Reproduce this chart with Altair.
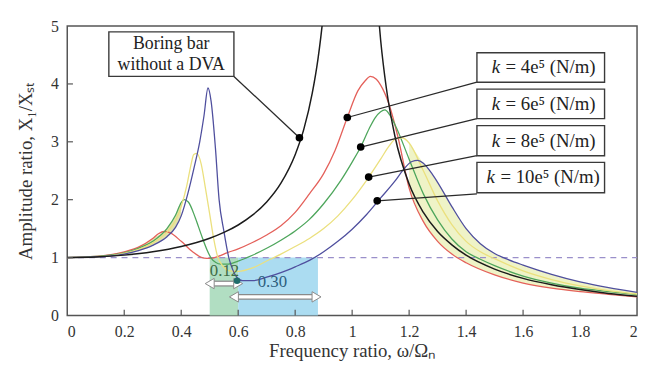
import altair as alt
import pandas as pd

# ---------------- data ----------------
# Boring bar without a DVA (black)
bare_x = [0, 0.1, 0.2, 0.3, 0.4, 0.5, 0.55, 0.6, 0.65, 0.7, 0.75, 0.8, 0.83, 0.86, 0.88, 0.89,
          0.9, 0.92, 0.95, 1.05, 1.08, 1.09, 1.1, 1.12, 1.15, 1.2, 1.25, 1.3, 1.35, 1.4, 1.5,
          1.6, 1.7, 1.8, 1.9, 2.0]
bare_y = [1.0, 1.01, 1.042, 1.099, 1.19, 1.333, 1.434, 1.5625, 1.732, 1.961, 2.286, 2.778, 3.21,
          3.84, 4.43, 4.81, 5.26, 6.5, 10, 10, 6.0, 5.32, 4.76, 3.93, 3.10, 2.27, 1.78, 1.45,
          1.22, 1.04, 0.80, 0.64, 0.53, 0.446, 0.38, 0.333]

# k = 4e5 (red)
k4_x = [0, 0.1, 0.2, 0.25, 0.3, 0.32, 0.34, 0.36, 0.4, 0.44, 0.48, 0.5, 0.53, 0.56, 0.6, 0.65,
        0.7, 0.75, 0.8, 0.85, 0.9, 0.94, 0.983, 1.02, 1.045, 1.064, 1.085, 1.1, 1.128, 1.16, 1.2,
        1.25, 1.3, 1.35, 1.4, 1.5, 1.6, 1.7, 1.8, 1.9, 2.0]
k4_y = [1.0, 1.02, 1.1, 1.18, 1.33, 1.41, 1.45, 1.43, 1.28, 1.1, 0.99, 0.985, 1.02, 1.08, 1.15,
        1.26, 1.39, 1.55, 1.78, 2.1, 2.45, 2.85, 3.42, 3.88, 4.05, 4.13, 4.08, 3.98, 3.67, 3.1, 2.2,
        1.62, 1.28, 1.06, 0.91, 0.7, 0.56, 0.47, 0.41, 0.365, 0.32]

# k = 6e5 (green)
k6_x = [0, 0.1, 0.2, 0.25, 0.3, 0.35, 0.38, 0.40, 0.41, 0.425, 0.45, 0.47, 0.49, 0.505, 0.52,
        0.54, 0.56, 0.6, 0.65, 0.7, 0.75, 0.8, 0.85, 0.9, 0.96, 1.0, 1.03, 1.06, 1.08, 1.10,
        1.115, 1.13, 1.15, 1.2, 1.25, 1.3, 1.35, 1.4, 1.45, 1.5, 1.6, 1.7, 1.8, 1.9, 2.0]
k6_y = [1.0, 1.02, 1.08, 1.16, 1.28, 1.5, 1.73, 1.95, 2.0, 1.96, 1.68, 1.4, 1.14, 0.99, 0.92,
        0.885, 0.885, 0.94, 1.04, 1.16, 1.3, 1.46, 1.66, 1.93, 2.33, 2.65, 2.91, 3.23, 3.41, 3.52,
        3.55, 3.48, 3.3, 2.7, 2.1, 1.65, 1.32, 1.1, 0.97, 0.86, 0.68, 0.56, 0.47, 0.41, 0.36]

# k = 8e5 (yellow)
k8_x = [0, 0.1, 0.2, 0.25, 0.3, 0.35, 0.38, 0.4, 0.42, 0.435, 0.444, 0.455, 0.47, 0.485, 0.5,
        0.515, 0.527, 0.545, 0.57, 0.6, 0.65, 0.7, 0.75, 0.8, 0.85, 0.9, 0.95, 1.0, 1.05,
        1.1, 1.13, 1.155, 1.175, 1.2, 1.25, 1.3, 1.35, 1.4, 1.45, 1.5, 1.6, 1.7, 1.8, 1.9, 2.0]
k8_y = [1.0, 1.01, 1.07, 1.14, 1.25, 1.44, 1.64, 1.88, 2.25, 2.62, 2.78, 2.8, 2.62, 2.2, 1.75,
        1.3, 1.03, 0.86, 0.77, 0.76, 0.82, 0.94, 1.06, 1.19, 1.33, 1.5, 1.72, 2.0, 2.33,
        2.7, 2.93, 3.06, 3.07, 2.98, 2.5, 1.98, 1.57, 1.28, 1.1, 0.98, 0.77, 0.62, 0.51, 0.43, 0.37]

# k = 10e5 (purple)
k10_x = [0, 0.1, 0.2, 0.25, 0.3, 0.35, 0.38, 0.4, 0.423, 0.445, 0.465, 0.48, 0.494, 0.505, 0.52,
         0.533, 0.55, 0.567, 0.58, 0.595, 0.615, 0.65, 0.7, 0.75, 0.8, 0.85, 0.9, 0.95, 1.0, 1.05,
         1.1, 1.15, 1.18, 1.21, 1.23, 1.25, 1.28, 1.3, 1.35, 1.4, 1.45, 1.5, 1.55, 1.6, 1.7, 1.8,
         1.9, 2.0]
k10_y = [1.0, 1.01, 1.06, 1.12, 1.21, 1.36, 1.52, 1.72, 2.1, 2.55, 3.0, 3.45, 3.93, 3.7, 2.9,
         2.0, 1.45, 1.0, 0.8, 0.66, 0.6, 0.6, 0.66, 0.74, 0.84, 0.95, 1.1, 1.28, 1.49, 1.74,
         2.03, 2.32, 2.52, 2.66, 2.68, 2.63, 2.45, 2.3, 1.88, 1.5, 1.24, 1.07, 0.96, 0.87, 0.71, 0.58,
         0.48, 0.4]

series_names = ["k4", "k6", "k8", "k10"]
series_colors = ["#e4605a", "#4ea65c", "#ebe07e", "#4f4f9e"]

# shaded bundles
band_r_x = [1.2, 1.25, 1.3, 1.35, 1.4, 1.5, 1.6, 1.7, 1.8, 1.9, 2.0]
band_r_lo = [2.2, 1.62, 1.28, 1.06, 0.91, 0.7, 0.56, 0.47, 0.41, 0.365, 0.32]
band_r_hi = [2.98, 2.63, 2.3, 1.88, 1.5, 1.07, 0.87, 0.71, 0.58, 0.48, 0.4]
band_l_x = [0.15, 0.2, 0.25, 0.3, 0.35, 0.38, 0.4]
band_l_lo = [1.03, 1.06, 1.12, 1.21, 1.36, 1.52, 1.72]
band_l_hi = [1.05, 1.1, 1.18, 1.33, 1.5, 1.73, 1.95]

# frequency bands
region_x = [0.50, 0.60]
region_x2 = [0.60, 0.88]
region_colors = ["#a9dabb", "#a2d8ef"]
region_labels = ["0.12", "0.30"]
region_label_x = [0.552, 0.72]
region_label_y = [0.77, 0.58]
region_label_colors = ["#3e6b45", "#2d5f7d"]
arrow_x = [0.50, 0.585]
arrow_x2 = [0.60, 0.875]
arrow_y = [0.55, 0.32]

# annotation boxes
box_x = [0.146, 1.438, 1.438, 1.438, 1.438]
box_x2 = [0.585, 1.886, 1.886, 1.886, 1.886]
box_y = [4.13, 4.03, 3.40, 2.76, 2.12]
box_y2 = [4.90, 4.54, 3.91, 3.28, 2.645]
k_labels = ["= 4e\u2075 (N/m)", "= 6e\u2075 (N/m)", "= 8e\u2075 (N/m)", "= 10e\u2075 (N/m)"]
k_label_x = [1.49, 1.49, 1.49, 1.472]
k_label_y = [4.285, 3.655, 3.02, 2.383]
bare_label = ["Boring bar", "without a DVA"]
bare_label_y = [4.69, 4.33]

# pointer lines and dots
ptr_x = [0.585, 1.438, 1.438, 1.438, 1.438]
ptr_y = [4.13, 4.03, 3.40, 2.76, 2.10]
dot_x = [0.815, 0.983, 1.03, 1.058, 1.088]
dot_y = [3.07, 3.42, 2.91, 2.39, 1.98]

x_ticks = [0, 0.2, 0.4, 0.6, 0.8, 1.0, 1.2, 1.4, 1.6, 1.8, 2.0]
y_ticks = [0, 1, 2, 3, 4, 5]

# ---------------- chart ----------------
FONT = "Liberation Serif, Times New Roman, serif"
xs = alt.Scale(domain=[0, 2], nice=False, zero=False)
ys = alt.Scale(domain=[0, 5], nice=False, zero=False)
X = alt.X("x:Q", scale=xs, axis=alt.Axis(values=x_ticks, format="~g",
                                          title="Frequency ratio, \u03c9/\u03a9\u2099",
                                          labelPadding=8, titlePadding=3))
Y = alt.Y("y:Q", scale=ys, axis=alt.Axis(values=y_ticks, format="~g",
                                          title="Amplitude ratio, X\u2081/X\u209b\u209c",
                                          labelPadding=9, titlePadding=15))

curves = pd.concat([
    pd.DataFrame({"x": k4_x, "y": k4_y, "s": "k4"}),
    pd.DataFrame({"x": k6_x, "y": k6_y, "s": "k6"}),
    pd.DataFrame({"x": k8_x, "y": k8_y, "s": "k8"}),
    pd.DataFrame({"x": k10_x, "y": k10_y, "s": "k10"}),
])
bare = pd.DataFrame({"x": bare_x, "y": bare_y})

regions = pd.DataFrame({"x": region_x, "x2": region_x2, "y": [0, 0], "y2": [1, 1],
                        "c": region_colors})
reg_layer = alt.Chart(regions).mark_rect(opacity=0.9).encode(
    x=X, x2="x2:Q", y=Y, y2="y2:Q", color=alt.Color("c:N", scale=None))

band_r = pd.DataFrame({"x": band_r_x, "y": band_r_lo, "y2": band_r_hi})
band_l = pd.DataFrame({"x": band_l_x, "y": band_l_lo, "y2": band_l_hi})
band_r_layer = alt.Chart(band_r).mark_area(color="#e9efb4", opacity=0.75, interpolate="monotone",
                                           clip=True).encode(x=X, y=Y, y2="y2:Q")
band_l_layer = alt.Chart(band_l).mark_area(color="#d4d68a", opacity=0.7, interpolate="monotone",
                                           clip=True).encode(x=X, y=Y, y2="y2:Q")

dash = pd.DataFrame({"x": [0, 2], "y": [1, 1]})
dash_layer = alt.Chart(dash).mark_line(color="#9a8fca", strokeWidth=1.3,
                                       strokeDash=[6, 5]).encode(x=X, y=Y)

curve_layer = alt.Chart(curves).mark_line(interpolate="monotone", strokeWidth=1.3,
                                          clip=True).encode(
    x=X, y=Y,
    color=alt.Color("s:N", scale=alt.Scale(domain=series_names, range=series_colors), legend=None),
    detail="s:N")
bare_layer = alt.Chart(bare).mark_line(interpolate="monotone", strokeWidth=1.5, color="#1c1c1c",
                                       clip=True).encode(x=X, y=Y)

tick_x = pd.DataFrame({"x": x_ticks[1:-1], "y": [0] * 9, "y2": [0.1] * 9})
tick_y = pd.DataFrame({"x": [0] * 4, "x2": [0.02] * 4, "y": y_ticks[1:-1]})
tick_x_layer = alt.Chart(tick_x).mark_rule(color="#555", strokeWidth=1.2).encode(x=X, y=Y, y2="y2:Q")
tick_y_layer = alt.Chart(tick_y).mark_rule(color="#555", strokeWidth=1.2).encode(x=X, x2="x2:Q", y=Y)

ptr = pd.DataFrame({"x": ptr_x, "y": ptr_y, "x2": dot_x, "y2": dot_y})
ptr_layer = alt.Chart(ptr).mark_rule(color="#2a2a2a", strokeWidth=1.3).encode(
    x=X, y=Y, x2="x2:Q", y2="y2:Q")
dots = pd.DataFrame({"x": dot_x, "y": dot_y})
dot_layer = alt.Chart(dots).mark_circle(size=60, color="#000", opacity=1).encode(x=X, y=Y)

boxes = pd.DataFrame({"x": box_x, "x2": box_x2, "y": box_y, "y2": box_y2})
box_layer = alt.Chart(boxes).mark_rect(fill="white", stroke="#3a3a3a", strokeWidth=1.4).encode(
    x=X, x2="x2:Q", y=Y, y2="y2:Q")

bare_txt = pd.DataFrame({"x": [0.365, 0.365], "y": bare_label_y, "t": bare_label})
bare_txt_layer = alt.Chart(bare_txt).mark_text(font=FONT, fontSize=18, color="#222",
                                               align="center", baseline="middle").encode(
    x=X, y=Y, text="t:N")
k_italic = pd.DataFrame({"x": k_label_x, "y": k_label_y, "t": ["k"] * 4})
k_italic_layer = alt.Chart(k_italic).mark_text(font=FONT, fontSize=19, fontStyle="italic",
                                               color="#222", align="left",
                                               baseline="middle").encode(x=X, y=Y, text="t:N")
k_rest = pd.DataFrame({"x": k_label_x, "y": k_label_y, "t": k_labels})
k_rest_layer = alt.Chart(k_rest).mark_text(font=FONT, fontSize=19, color="#222", align="left",
                                           baseline="middle", dx=14).encode(x=X, y=Y, text="t:N")

arrows = pd.DataFrame({"x": arrow_x, "x2": arrow_x2, "y": arrow_y})
arrow_out = alt.Chart(arrows).mark_rule(color="#8a8a8a", strokeWidth=6).encode(x=X, x2="x2:Q", y=Y)
arrow_in = alt.Chart(arrows).mark_rule(color="white", strokeWidth=3.5).encode(x=X, x2="x2:Q", y=Y)
heads_l = pd.DataFrame({"x": arrow_x, "y": arrow_y})
heads_r = pd.DataFrame({"x": arrow_x2, "y": arrow_y})
head_l_layer = alt.Chart(heads_l).mark_point(shape="triangle-left", size=110, filled=True,
                                             fill="white", stroke="#8a8a8a", strokeWidth=1,
                                             opacity=1).encode(x=X, y=Y)
head_r_layer = alt.Chart(heads_r).mark_point(shape="triangle-right", size=110, filled=True,
                                             fill="white", stroke="#8a8a8a", strokeWidth=1,
                                             opacity=1).encode(x=X, y=Y)

reg_txt = pd.DataFrame({"x": region_label_x, "y": region_label_y, "t": region_labels,
                        "c": region_label_colors})
reg_txt_layer = alt.Chart(reg_txt).mark_text(font=FONT, fontSize=17, align="center",
                                             baseline="middle").encode(
    x=X, y=Y, text="t:N", color=alt.Color("c:N", scale=None))

mid_dot = pd.DataFrame({"x": [0.596], "y": [0.6]})
mid_dot_layer = alt.Chart(mid_dot).mark_circle(size=45, color="#1f6b6b", opacity=1).encode(x=X, y=Y)

chart = alt.layer(
    reg_layer, band_l_layer, band_r_layer, dash_layer, curve_layer, bare_layer,
    tick_x_layer, tick_y_layer, ptr_layer, box_layer, bare_txt_layer, k_italic_layer,
    k_rest_layer, dot_layer, arrow_out, arrow_in, head_l_layer, head_r_layer,
    reg_txt_layer, mid_dot_layer,
).properties(
    width=577, height=293,
    autosize=alt.AutoSizeParams(type="none"),
    padding={"left": 60, "top": 16, "right": 3, "bottom": 55},
    background="white",
).configure_axis(
    labelFont=FONT, labelFontSize=16, labelColor="#333",
    titleFont=FONT, titleFontSize=19, titleColor="#333", titleFontWeight="normal",
    ticks=False, domain=False, grid=False,
).configure_view(stroke="#555", strokeWidth=1.5)

chart.save("out.html", embed_options={"renderer": "svg", "actions": False})
